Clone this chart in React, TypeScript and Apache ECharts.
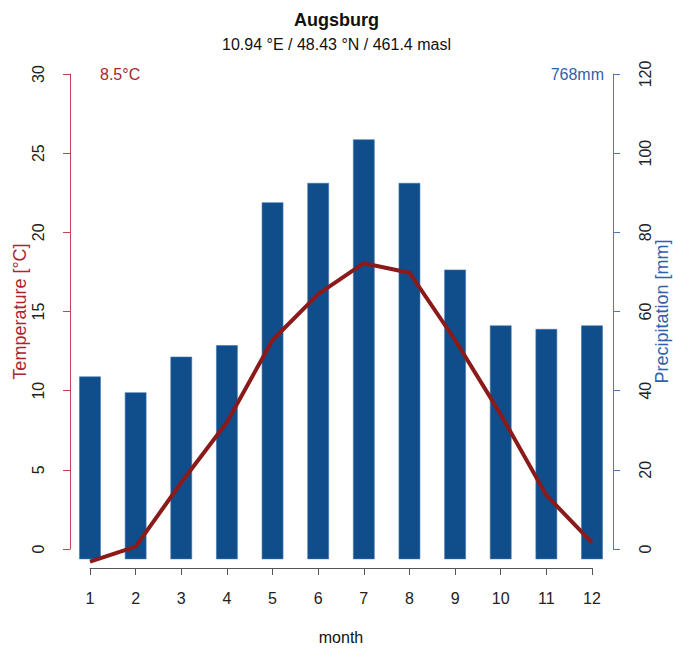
import React, { useEffect, useRef } from "react";
import * as echarts from "echarts";

const MONTHS = [1, 2, 3, 4, 5, 6, 7, 8, 9, 10, 11, 12];
const TEMPERATURE = [-0.8, 0.15, 4.2, 8.0, 13.2, 16.1, 18.05, 17.45, 13.2, 8.5, 3.4, 0.4];
const PRECIPITATION = [43.5, 39.5, 48.5, 51.4, 87.5, 92.4, 103.4, 92.4, 70.5, 56.4, 55.5, 56.4];
const TEMP_TICKS = { min: 0, max: 30, step: 5 };
const PREC_TICKS = { min: 0, max: 120, step: 20 };
// plot region extends below zero (R-style padding): lower limits of the data grid
const TEMP_PAD_MIN = -1.2;
const PREC_PAD_MIN = -4.8;
const BAR_BASE = -2.5;
const TITLE = "Augsburg";
const SUBTITLE = "10.94 °E / 48.43 °N / 461.4 masl";
const MEAN_TEMP_LABEL = "8.5°C";
const ANNUAL_PREC_LABEL = "768mm";
const TEMP_AXIS_NAME = "Temperature [°C]";
const PREC_AXIS_NAME = "Precipitation [mm]";
const X_AXIS_NAME = "month";

const FONT = "'Liberation Sans', Arial, sans-serif";
const RED_AXIS = "#C0454C";
const RED_TEXT = "#A8262C";
const RED_LINE = "#8B1A1A";
const BLUE_AXIS = "#4A7CBA";
const BLUE_TEXT = "#2F62AA";
const BAR_COLOR = "#104E8B";

const hidden = () => ({
  show: false,
  axisLine: { show: false, onZero: false },
  axisTick: { show: false },
  axisLabel: { show: false },
  splitLine: { show: false },
});

export default function App() {
  const ref = useRef<HTMLDivElement>(null);
  useEffect(() => {
    document.body.style.margin = "0";
    if (!ref.current) return;
    const chart = echarts.init(ref.current, null, { renderer: "svg" });
    const option: any = {
      animation: false,
      backgroundColor: "#ffffff",
      textStyle: { fontFamily: FONT },
      title: {
        text: TITLE,
        subtext: SUBTITLE,
        left: "center",
        top: 6,
        itemGap: 7,
        textStyle: { fontFamily: FONT, fontSize: 18, fontWeight: "bold", color: "#111" },
        subtextStyle: { fontFamily: FONT, fontSize: 16, color: "#111" },
      },
      grid: [
        { left: 70, right: 60, top: 74, bottom: 100, outerBoundsMode: "none", containLabel: false },
        { left: 90, right: 81, top: 74, bottom: 81, outerBoundsMode: "none", containLabel: false },
      ],
      xAxis: [
        { type: "value", gridIndex: 0, min: 0, max: 1, ...hidden() },
        {
          type: "value",
          gridIndex: 1,
          min: MONTHS[0],
          max: MONTHS[MONTHS.length - 1],
          interval: 1,
          position: "bottom",
          splitLine: { show: false },
          axisLine: { show: true, onZero: false, lineStyle: { color: "#555", width: 1 } },
          axisTick: { show: true, inside: false, length: 7, lineStyle: { color: "#555", width: 1 } },
          axisLabel: { margin: 22, fontSize: 16, color: "#222", fontFamily: FONT },
          name: X_AXIS_NAME,
          nameLocation: "middle",
          nameGap: 61,
          nameMoveOverlap: false,
          nameTextStyle: { fontSize: 16, color: "#111", fontFamily: FONT },
        },
      ],
      yAxis: [
        {
          type: "value",
          gridIndex: 0,
          position: "left",
          min: TEMP_TICKS.min,
          max: TEMP_TICKS.max,
          interval: TEMP_TICKS.step,
          splitLine: { show: false },
          axisLine: { show: true, onZero: false, lineStyle: { color: RED_AXIS, width: 1 } },
          axisTick: { show: true, length: 7, lineStyle: { color: RED_AXIS } },
          axisLabel: { rotate: 90, margin: 24, fontSize: 16, color: "#222", fontFamily: FONT },
          name: TEMP_AXIS_NAME,
          nameLocation: "middle",
          nameGap: 41,
          nameMoveOverlap: false,
          nameTextStyle: { fontSize: 18, color: RED_TEXT, fontFamily: FONT },
        },
        {
          type: "value",
          gridIndex: 0,
          position: "right",
          min: PREC_TICKS.min,
          max: PREC_TICKS.max,
          interval: PREC_TICKS.step,
          splitLine: { show: false },
          axisLine: { show: true, onZero: false, lineStyle: { color: BLUE_AXIS, width: 1 } },
          axisTick: { show: true, length: 7, lineStyle: { color: BLUE_AXIS } },
          axisLabel: { rotate: 90, margin: 24, fontSize: 16, color: "#222", fontFamily: FONT },
          name: PREC_AXIS_NAME,
          nameLocation: "middle",
          nameGap: 40,
          nameMoveOverlap: false,
          nameTextStyle: { fontSize: 18, color: BLUE_TEXT, fontFamily: FONT },
        },
        { type: "value", gridIndex: 1, min: TEMP_PAD_MIN, max: TEMP_TICKS.max, ...hidden() },
        { type: "value", gridIndex: 1, min: PREC_PAD_MIN, max: PREC_TICKS.max, ...hidden() },
      ],
      series: [
        {
          type: "custom",
          xAxisIndex: 1,
          yAxisIndex: 3,
          clip: false,
          data: MONTHS.map((m, i) => [m, PRECIPITATION[i]]),
          renderItem: (params: any, api: any) => {
            const x = api.value(0);
            const v = api.value(1);
            const top = api.coord([x, v]);
            const base = api.coord([x, BAR_BASE]);
            const w = api.size([1, 0])[0] * 0.46;
            return {
              type: "rect",
              shape: { x: top[0] - w / 2, y: top[1], width: w, height: base[1] - top[1] },
              style: { fill: BAR_COLOR, stroke: "#3f73ad", lineWidth: 0.6 },
            };
          },
          z: 2,
        },
        {
          type: "line",
          xAxisIndex: 1,
          yAxisIndex: 2,
          clip: false,
          showSymbol: false,
          symbol: "none",
          data: MONTHS.map((m, i) => [m, TEMPERATURE[i]]),
          lineStyle: { color: RED_LINE, width: 4 },
          z: 3,
        },
      ],
      graphic: [
        {
          type: "text",
          left: 100,
          top: 66,
          style: { text: MEAN_TEMP_LABEL, fontSize: 16, fill: RED_TEXT, fontFamily: FONT },
        },
        {
          type: "text",
          right: 69,
          top: 66,
          style: { text: ANNUAL_PREC_LABEL, fontSize: 16, fill: BLUE_TEXT, fontFamily: FONT },
        },
      ],
    };
    chart.setOption(option);
    return () => chart.dispose();
  }, []);
  return <div ref={ref} style={{ width: 673, height: 649 }} />;
}
